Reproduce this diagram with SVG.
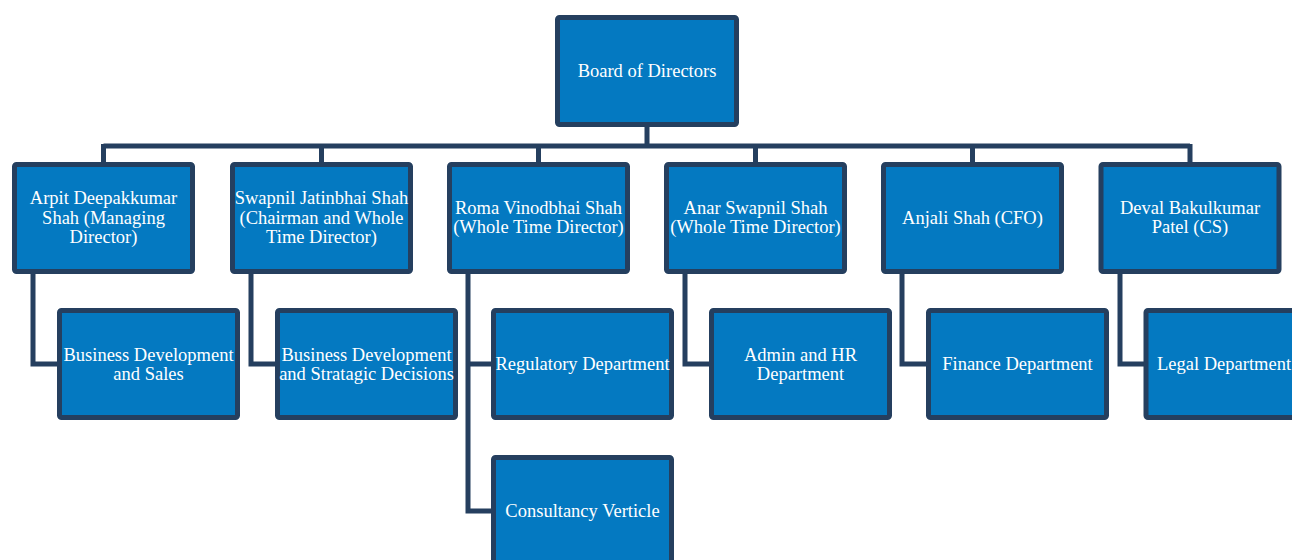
<svg xmlns="http://www.w3.org/2000/svg" width="1292" height="560" viewBox="0 0 1292 560">
<style>
.box{fill:#0479C1;stroke:#253F5F;stroke-width:5}
.t{font-family:"Liberation Serif","Times New Roman",serif;font-size:18.5px;fill:#ffffff;text-anchor:middle}
.c{fill:none;stroke:#253F5F;stroke-width:5;stroke-linejoin:miter}
</style>
<rect width="1292" height="560" fill="#ffffff"/>
<g id="connectors">
<path class="c" d="M647 127 V146 M103.5 146 H1190 M103.5 144 V162 M321.5 144 V162 M538.5 144 V162 M755.5 144 V162 M972.5 144 V162 M1190 144 V162"/>
<path class="c" d="M33 274 V364 H57"/>
<path class="c" d="M251 274 V364 H275"/>
<path class="c" d="M468 274 V511 H491 M468 364 H491"/>
<path class="c" d="M685 274 V364 H709"/>
<path class="c" d="M902 274 V364 H926"/>
<path class="c" d="M1120 274 V364 H1144"/>
</g>
<g id="board"><rect class="box" x="557.5" y="17.5" width="179" height="107" rx="2"/><text class="t" x="647" y="77">Board of Directors</text></g>
<g id="arpit"><rect class="box" x="14.5" y="164.5" width="178" height="107" rx="2"/><text class="t" x="103.5" y="204">Arpit Deepakkumar</text><text class="t" x="103.5" y="224">Shah (Managing</text><text class="t" x="103.5" y="243">Director)</text></g>
<g id="swapnil"><rect class="box" x="232.5" y="164.5" width="178" height="107" rx="2"/><text class="t" x="321.5" y="204">Swapnil Jatinbhai Shah</text><text class="t" x="321.5" y="224">(Chairman and Whole</text><text class="t" x="321.5" y="243">Time Director)</text></g>
<g id="roma"><rect class="box" x="449.5" y="164.5" width="178" height="107" rx="2"/><text class="t" x="538.5" y="214">Roma Vinodbhai Shah</text><text class="t" x="538.5" y="233">(Whole Time Director)</text></g>
<g id="anar"><rect class="box" x="666.5" y="164.5" width="178" height="107" rx="2"/><text class="t" x="755.5" y="214">Anar Swapnil Shah</text><text class="t" x="755.5" y="233">(Whole Time Director)</text></g>
<g id="anjali"><rect class="box" x="883.5" y="164.5" width="178" height="107" rx="2"/><text class="t" x="972.5" y="224">Anjali Shah (CFO)</text></g>
<g id="deval"><rect class="box" x="1101" y="164.5" width="178" height="107" rx="2"/><text class="t" x="1190" y="214">Deval Bakulkumar</text><text class="t" x="1190" y="233">Patel (CS)</text></g>
<g id="bds"><rect class="box" x="59.5" y="310.5" width="178" height="107" rx="2"/><text class="t" x="148.5" y="361">Business Development</text><text class="t" x="148.5" y="380">and Sales</text></g>
<g id="bdsd"><rect class="box" x="277.5" y="310.5" width="178" height="107" rx="2"/><text class="t" x="366.5" y="361">Business Development</text><text class="t" x="366.5" y="380">and Stratagic Decisions</text></g>
<g id="regulatory"><rect class="box" x="493.5" y="310.5" width="178" height="107" rx="2"/><text class="t" x="582.5" y="370">Regulatory Department</text></g>
<g id="consultancy"><rect class="box" x="493.5" y="457.5" width="178" height="107" rx="2"/><text class="t" x="582.5" y="517">Consultancy Verticle</text></g>
<g id="adminhr"><rect class="box" x="711.5" y="310.5" width="178" height="107" rx="2"/><text class="t" x="800.5" y="361">Admin and HR</text><text class="t" x="800.5" y="380">Department</text></g>
<g id="finance"><rect class="box" x="928.5" y="310.5" width="178" height="107" rx="2"/><text class="t" x="1017.5" y="370">Finance Department</text></g>
<g id="legal"><rect class="box" x="1146" y="310.5" width="178" height="107" rx="2"/><text class="t" x="1224" y="370">Legal Department</text></g>
</svg>
